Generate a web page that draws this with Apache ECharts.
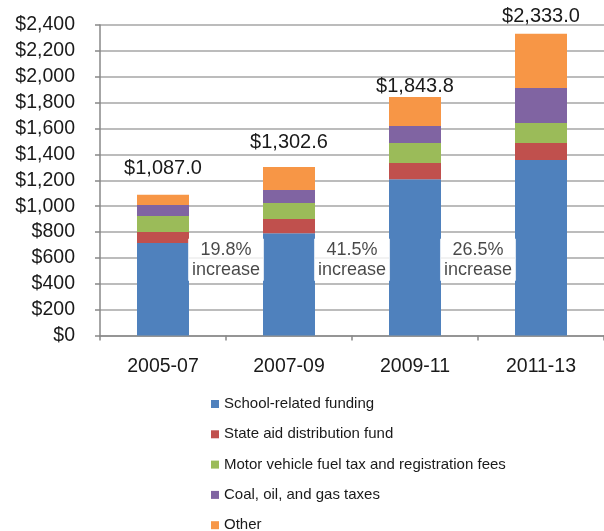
<!DOCTYPE html>
<html>
<head>
<meta charset="utf-8">
<script src="https://cdn.jsdelivr.net/npm/echarts@6/dist/echarts.min.js"></script>
<style>html,body{margin:0;padding:0;background:#fff;}#c{width:604px;height:531px;}</style>
</head>
<body>
<div id="c"></div>
<script>
var categories = ['2005-07', '2007-09', '2009-11', '2011-13'];
var schoolRelated = [715, 790, 1207, 1356];
var stateAid = [85, 110, 126, 132];
var motorVehicle = [123, 124, 155, 154];
var coalOilGas = [86, 100, 131, 271];
var other = [78, 178.6, 224.8, 420];
var totals = [1087.0, 1302.6, 1843.8, 2333.0];
var increases = ['19.8%', '41.5%', '26.5%'];
var yTicks = [0, 200, 400, 600, 800, 1000, 1200, 1400, 1600, 1800, 2000, 2200, 2400];

var FONT = '"Liberation Sans", Arial, sans-serif';
var totalOffsets = [16, 14, 0.5, 7.5];
var increaseY = 585;

function money(v) {
  return '$' + v.toLocaleString('en-US');
}
function money1(v) {
  return '$' + v.toLocaleString('en-US', {minimumFractionDigits: 1, maximumFractionDigits: 1});
}

var chart = echarts.init(document.getElementById('c'));
var barBase = { type: 'bar', stack: 'total', barWidth: 52, xAxisIndex: 0, yAxisIndex: 0 };

chart.setOption({
  animation: false,
  color: ['#4F81BD', '#C0504D', '#9BBB59', '#8064A2', '#F79646'],
  grid: { left: 100, top: 25, width: 512, height: 310.5, containLabel: false },
  legend: {
    orient: 'vertical',
    left: 206,
    top: 391.5,
    height: 200,
    itemWidth: 8,
    itemHeight: 8,
    itemGap: 15.3,
    icon: 'rect',
    textStyle: { fontFamily: FONT, fontSize: 15, color: '#1a1a1a' },
    data: ['School-related funding', 'State aid distribution fund', 'Motor vehicle fuel tax and registration fees', 'Coal, oil, and gas taxes', 'Other']
  },
  xAxis: [{
    type: 'category',
    data: categories,
    axisLine: { lineStyle: { color: '#888', width: 1.5 } },
    axisTick: { show: true, length: 5, lineStyle: { color: '#888', width: 1.5 } },
    axisLabel: { fontFamily: FONT, fontSize: 19.5, color: '#1a1a1a', margin: 21 }
  }, {
    type: 'value', min: 0, max: 4, show: false
  }],
  yAxis: {
    type: 'value',
    min: yTicks[0],
    max: yTicks[yTicks.length - 1],
    interval: 200,
    axisLine: { show: true, lineStyle: { color: '#888', width: 1.5 } },
    axisTick: { show: true, length: 5, lineStyle: { color: '#888', width: 1.5 } },
    splitLine: { show: true, lineStyle: { color: '#a6a6a6', width: 1.5 } },
    axisLabel: { fontFamily: FONT, fontSize: 19.5, color: '#1a1a1a', margin: 25, formatter: money }
  },
  series: [
    Object.assign({}, barBase, { name: 'School-related funding', data: schoolRelated }),
    Object.assign({}, barBase, { name: 'State aid distribution fund', data: stateAid }),
    Object.assign({}, barBase, { name: 'Motor vehicle fuel tax and registration fees', data: motorVehicle }),
    Object.assign({}, barBase, { name: 'Coal, oil, and gas taxes', data: coalOilGas }),
    Object.assign({}, barBase, {
      name: 'Other',
      data: other.map(function (v, i) {
        return {
          value: v,
          label: {
            show: true,
            position: 'top',
            distance: 0,
            offset: [0, -totalOffsets[i]],
            formatter: money1(totals[i]),
            fontFamily: FONT,
            fontSize: 20,
            lineHeight: 20,
            color: '#1a1a1a'
          }
        };
      })
    }),
    {
      type: 'scatter',
      xAxisIndex: 1,
      yAxisIndex: 0,
      symbolSize: 0,
      silent: true,
      data: increases.map(function (p, i) { return [i + 1, increaseY, p]; }),
      label: {
        show: true,
        position: 'inside',
        formatter: function (d) { return d.value[2] + '\nincrease'; },
        fontFamily: FONT,
        fontSize: 18,
        lineHeight: 20,
        color: '#1a1a1a',
        backgroundColor: '#fff',
        padding: [1, 4]
      }
    }
  ]
});
</script>
</body>
</html>
